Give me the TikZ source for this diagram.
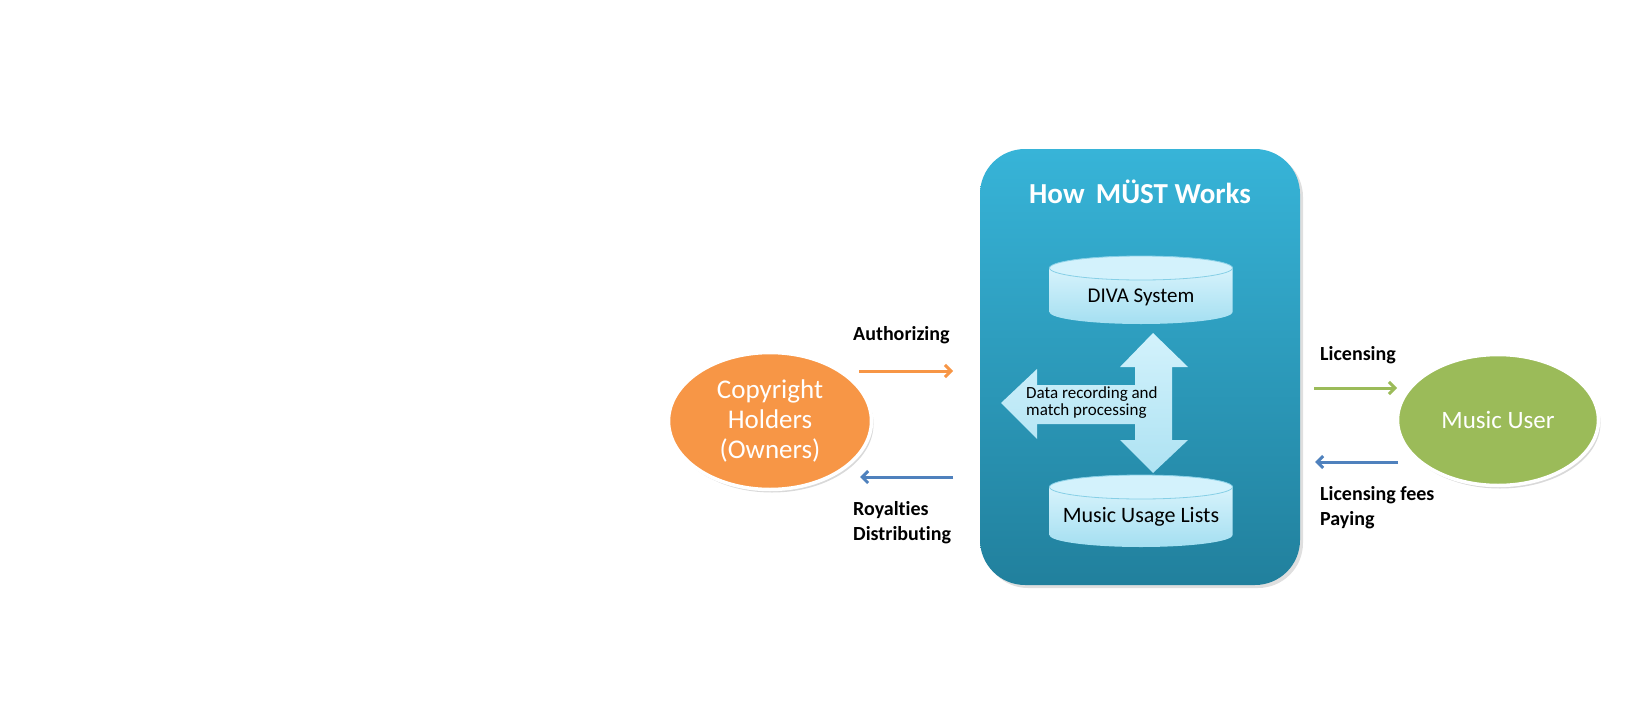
\documentclass[tikz,border=0pt]{standalone}
\usepackage{fontspec}
\setmainfont[Ligatures={NoCommon}]{Carlito}
\usepackage{tikz}
\usetikzlibrary{arrows.meta,shapes.geometric,shadows}

\definecolor{boxtop}{HTML}{37B4D8}
\definecolor{boxbot}{HTML}{21809D}
\definecolor{cyltop}{HTML}{E2F7FE}
\definecolor{cylbot}{HTML}{A4DFF1}
\definecolor{cylface}{HTML}{D3F2FC}
\definecolor{cyledge}{HTML}{86CFE6}
\definecolor{owner}{HTML}{F79646}
\definecolor{user}{HTML}{9BBB59}
\definecolor{paid}{HTML}{4F81BD}

\begin{document}
\begin{tikzpicture}[x=1pt,y=1pt,
    lbl/.style={font=\fontsize{20}{25}\selectfont\bfseries, anchor=base west, align=left, inner sep=0pt},
    flow/.style={line width=3pt, -{Straight Barb[length=6pt,width=12pt]}},
    party/.style={ellipse, draw=white, line width=3.5pt, text=white, align=center, inner sep=0pt,
        drop shadow={opacity=0.3, shadow xshift=2pt, shadow yshift=-3pt}}]
    \useasboundingbox (0,0) rectangle (1639,-720);

    % Main box
    \node[rounded corners=45pt, minimum width=320pt, minimum height=436pt,
        top color=boxtop, bottom color=boxbot,
        drop shadow={opacity=0.25, shadow xshift=3pt, shadow yshift=-3pt}] (must) at (1140,-367) {};
    \node[text=white, font=\fontsize{29}{34}\selectfont\bfseries] (title) at (1140,-192) {How\, MÜST Works};

    % Databases
    \foreach \cy/\cb in {256/324, 475/547} {
        \shade[top color=cyltop, bottom color=cylbot] (1049.5,-\cy-12) -- (1049.5,-\cb+12)
            arc(180:360:91.5 and 12) -- (1232.5,-\cy-12) arc(0:180:91.5 and 12) -- cycle;
        \draw[cyledge, fill=cylface, line width=0.8pt] (1141,-\cy-12) ellipse (91.5 and 12);
    }
    \node[font=\fontsize{21}{25}\selectfont] (diva) at (1141,-297) {DIVA System};
    \node[font=\fontsize{22}{26}\selectfont] (usage) at (1141,-517) {Music Usage Lists};

    % Processing arrows
    \shade[top color=cylface, bottom color=cylbot!90!white] (1153,-333) -- (1188,-367) -- (1172,-367)
        -- (1172,-440) -- (1188,-440) -- (1153,-473) -- (1120,-440) -- (1135,-440) -- (1135,-424)
        -- (1037,-424) -- (1037,-439) -- (1001,-403) -- (1037,-369) -- (1037,-385) -- (1135,-385)
        -- (1135,-367) -- (1120,-367) -- cycle;
    \node[font=\fontsize{17}{17}\selectfont, align=left, anchor=west, inner sep=0pt] (proc) at (1026,-403)
        {Data recording and\\match processing};

    % Parties
    \node[party, fill=owner, minimum width=203pt, minimum height=137pt,
        font=\fontsize{27}{30}\selectfont] (holders) at (770,-421) {Copyright\\Holders\\(Owners)};
    \node[party, fill=user, minimum width=201pt, minimum height=131pt,
        font=\fontsize{25}{28}\selectfont] (muser) at (1498,-420) {Music User};

    % Flows
    \coordinate (auth-s) at (859,-371);
    \coordinate (auth-e) at (953,-371);
    \coordinate (roy-s) at (953,-477);
    \coordinate (roy-e) at (860,-477);
    \coordinate (lic-s) at (1314,-388);
    \coordinate (lic-e) at (1397,-388);
    \coordinate (fee-s) at (1398,-462);
    \coordinate (fee-e) at (1315,-462);
    \draw[flow, owner] (auth-s) -- (auth-e);
    \draw[flow, paid] (roy-s) -- (roy-e);
    \draw[flow, user] (lic-s) -- (lic-e);
    \draw[flow, paid] (fee-s) -- (fee-e);

    \node[lbl] (authlbl) at (853,-340) {Authorizing};
    \node[lbl] (roylbl) at (853,-540) {Royalties\\Distributing};
    \node[lbl] (liclbl) at (1320,-360) {Licensing};
    \node[lbl] (feelbl) at (1320,-525) {Licensing fees\\Paying};
\end{tikzpicture}
\end{document}
